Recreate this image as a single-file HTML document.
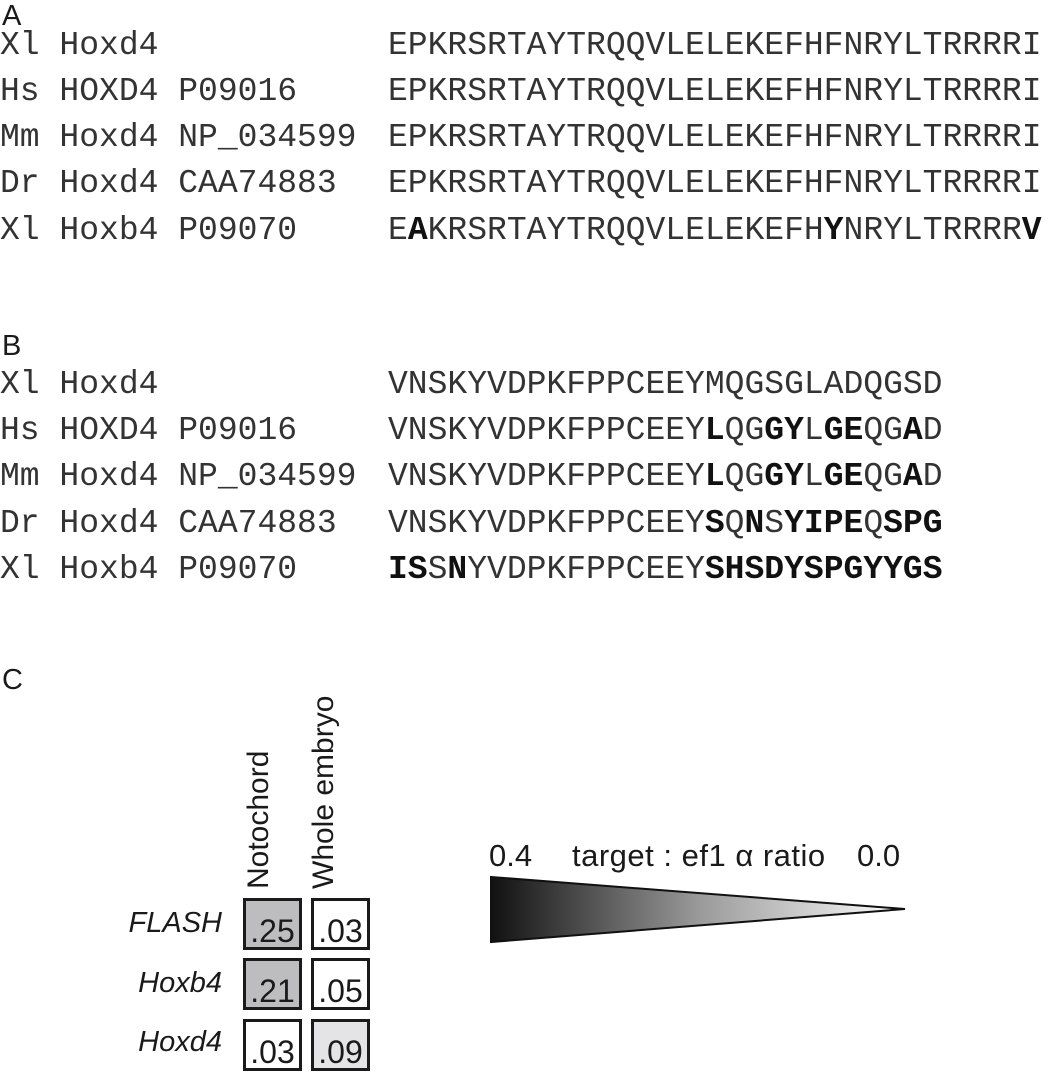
<!DOCTYPE html>
<html><head><meta charset="utf-8"><style>
body{margin:0;width:1056px;height:1085px;background:#fff;position:relative;overflow:hidden;color:#222}
.m{position:absolute;font-family:"Liberation Mono",monospace;font-size:33px;line-height:1;white-space:pre;color:#333}
.m b{color:#111}
.s{position:absolute;font-family:"Liberation Sans",sans-serif;line-height:1;white-space:pre;color:#1a1a1a}
.box{position:absolute;border:3px solid #1a1a1a;box-sizing:border-box;width:59px;height:52px;font-family:"Liberation Sans",sans-serif;font-size:32px;text-align:center;line-height:60px;color:#1a1a1a;overflow:hidden}
</style></head><body>
<div class="s" style="left:2px;top:2px;font-size:29px">A</div>
<div class="m" style="left:0;top:29px">Xl Hoxd4</div><div class="m" style="left:388px;top:29px">EPKRSRTAYTRQQVLELEKEFHFNRYLTRRRRI</div>
<div class="m" style="left:0;top:75px">Hs HOXD4 P09016</div><div class="m" style="left:388px;top:75px">EPKRSRTAYTRQQVLELEKEFHFNRYLTRRRRI</div>
<div class="m" style="left:0;top:121px">Mm Hoxd4 NP_034599</div><div class="m" style="left:388px;top:121px">EPKRSRTAYTRQQVLELEKEFHFNRYLTRRRRI</div>
<div class="m" style="left:0;top:167px">Dr Hoxd4 CAA74883</div><div class="m" style="left:388px;top:167px">EPKRSRTAYTRQQVLELEKEFHFNRYLTRRRRI</div>
<div class="m" style="left:0;top:214px">Xl Hoxb4 P09070</div><div class="m" style="left:388px;top:214px">E<b>A</b>KRSRTAYTRQQVLELEKEFH<b>Y</b>NRYLTRRRR<b>V</b></div>

<div class="s" style="left:2px;top:332px;font-size:29px">B</div>
<div class="m" style="left:0;top:368px">Xl Hoxd4</div><div class="m" style="left:388px;top:368px">VNSKYVDPKFPPCEEYMQGSGLADQGSD</div>
<div class="m" style="left:0;top:414px">Hs HOXD4 P09016</div><div class="m" style="left:388px;top:414px">VNSKYVDPKFPPCEEY<b>L</b>QG<b>GY</b>L<b>GE</b>QG<b>A</b>D</div>
<div class="m" style="left:0;top:460px">Mm Hoxd4 NP_034599</div><div class="m" style="left:388px;top:460px">VNSKYVDPKFPPCEEY<b>L</b>QG<b>GY</b>L<b>GE</b>QG<b>A</b>D</div>
<div class="m" style="left:0;top:507px">Dr Hoxd4 CAA74883</div><div class="m" style="left:388px;top:507px">VNSKYVDPKFPPCEEY<b>S</b>Q<b>N</b>S<b>YIPE</b>Q<b>SPG</b></div>
<div class="m" style="left:0;top:553px">Xl Hoxb4 P09070</div><div class="m" style="left:388px;top:553px"><b>IS</b>S<b>N</b>YVDPKFPPCEEY<b>SHSDYSPGYYGS</b></div>

<div class="s" style="left:2px;top:666px;font-size:29px">C</div>
<div class="s" style="left:244px;top:889px;font-size:30px;transform:rotate(-90deg);transform-origin:0 0">Notochord</div>
<div class="s" style="left:309px;top:889px;font-size:30px;transform:rotate(-90deg);transform-origin:0 0">Whole embryo</div>
<div class="s" style="left:0;width:222px;text-align:right;top:909px;font-size:29px;font-style:italic">FLASH</div>
<div class="s" style="left:0;width:222px;text-align:right;top:969px;font-size:29px;font-style:italic">Hoxb4</div>
<div class="s" style="left:0;width:222px;text-align:right;top:1028px;font-size:29px;font-style:italic">Hoxd4</div>
<div class="box" style="left:243px;top:898px;background:#bdbdbf">.25</div>
<div class="box" style="left:311px;top:898px">.03</div>
<div class="box" style="left:243px;top:958px;background:#bdbdbf">.21</div>
<div class="box" style="left:311px;top:958px">.05</div>
<div class="box" style="left:243px;top:1019px">.03</div>
<div class="box" style="left:311px;top:1019px;background:#e4e4e6">.09</div>

<div class="s" style="left:489px;top:840px;font-size:31px">0.4</div>
<div class="s" style="left:572px;top:840px;font-size:31px;letter-spacing:0.5px">target : ef1 α ratio</div>
<div class="s" style="left:857px;top:840px;font-size:31px">0.0</div>
<svg style="position:absolute;left:0;top:0" width="1056" height="1085">
<defs><linearGradient id="g" x1="491" x2="905" y1="0" y2="0" gradientUnits="userSpaceOnUse"><stop offset="0" stop-color="#111"/><stop offset="0.5" stop-color="#999"/><stop offset="1" stop-color="#fff"/></linearGradient></defs>
<polygon points="491,877 905,909 491,942" fill="url(#g)" stroke="#111" stroke-width="2"/>
</svg>
</body></html>
